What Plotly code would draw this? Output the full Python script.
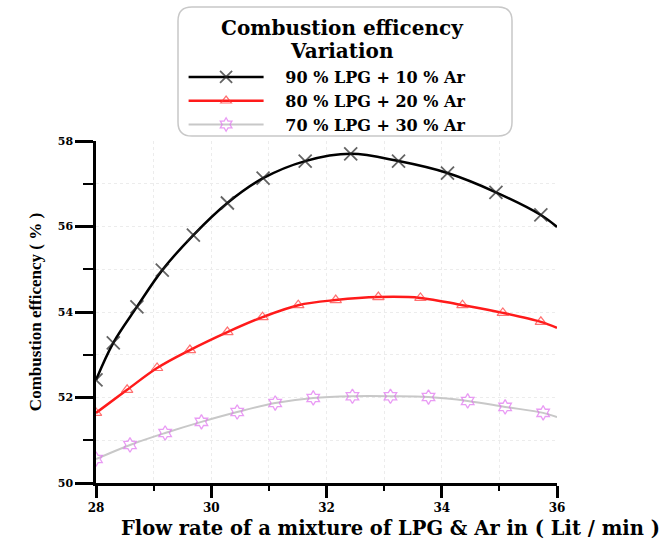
import plotly.graph_objects as go

# ---- data ----
x_lpg90 = [28.0, 28.30, 28.71, 29.15, 29.69, 30.28, 30.90, 31.63, 32.42, 33.25, 34.10, 34.94, 35.72, 36.0]
y_lpg90 = [52.41, 53.28, 54.12, 54.98, 55.80, 56.55, 57.13, 57.53, 57.70, 57.53, 57.25, 56.80, 56.27, 55.99]

x_lpg80 = [28.0, 28.54, 29.06, 29.63, 30.28, 30.89, 31.51, 32.16, 32.90, 33.63, 34.36, 35.06, 35.72, 36.0]
y_lpg80 = [51.64, 52.18, 52.69, 53.11, 53.53, 53.88, 54.16, 54.28, 54.35, 54.33, 54.16, 53.98, 53.77, 53.63]

x_lpg70 = [28.0, 28.59, 29.20, 29.83, 30.45, 31.11, 31.77, 32.45, 33.11, 33.77, 34.45, 35.10, 35.76, 36.0]
y_lpg70 = [50.56, 50.89, 51.17, 51.43, 51.66, 51.87, 51.99, 52.03, 52.03, 52.01, 51.92, 51.78, 51.64, 51.54]

names = ["90 % LPG + 10 % Ar", "80 % LPG + 20 % Ar", "70 % LPG + 30 % Ar"]
legend_title = ["Combustion efficency", "Variation"]
x_title = "Flow rate of a mixture of LPG & Ar in ( Lit / min )"
y_title = "Combustion efficency ( % )"

SERIF = "Liberation Serif, Times New Roman, serif"
WIDE = "DejaVu Serif, serif"
PAD = "\u00a0\u00a0\u00a0"

# plot area in pixels (for placing paper-referenced items)
L, R, T, B = 96, 557, 141, 483
def px(x): return (x - L) / (R - L)
def py(y): return (B - y) / (B - T)

def sizes(n, s):
    return [s] * (n - 1) + [0]

fig = go.Figure()
fig.add_trace(go.Scatter(
    x=x_lpg90, y=y_lpg90, name=PAD + names[0], mode="lines+markers",
    line=dict(color="black", width=2.5, shape="spline"),
    marker=dict(symbol="x-thin-open", size=sizes(len(x_lpg90), 13),
                line=dict(color="#222222", width=1.8), color="#222222"),
))
fig.add_trace(go.Scatter(
    x=x_lpg80, y=y_lpg80, name=PAD + names[1], mode="lines+markers",
    line=dict(color="#ff1a1a", width=2.5, shape="spline"),
    marker=dict(symbol="triangle-up-open", size=sizes(len(x_lpg80), 10),
                line=dict(color="#ff3333", width=1.2), color="#ff3333"),
))
fig.add_trace(go.Scatter(
    x=x_lpg70, y=y_lpg70, name=PAD + names[2], mode="lines+markers",
    line=dict(color="#c8c8c8", width=2, shape="spline"),
    marker=dict(symbol="hexagram-open", size=sizes(len(x_lpg70), 11),
                line=dict(color="#e070f0", width=1.3), color="#e070f0"),
))

fig.update_xaxes(
    range=[28, 36], tick0=28, dtick=2, ticks="outside", ticklen=12, tickwidth=2.5,
    tickcolor="black", showline=True, linecolor="black", linewidth=2.5,
    tickfont=dict(family=WIDE, size=12, color="black", weight="bold"),
    minor=dict(dtick=1, ticks="outside", ticklen=5, tickwidth=2, tickcolor="black",
               showgrid=True, gridcolor="#ececec", griddash="dot"),
    zeroline=False, showgrid=True, gridcolor="#ececec", griddash="dot",
)
fig.update_yaxes(
    range=[50, 58], tick0=50, dtick=2, ticks="outside", ticklen=18, tickwidth=2.5,
    tickcolor="black", showline=True, linecolor="black", linewidth=2.5,
    tickfont=dict(family=WIDE, size=11, color="black", weight="bold"),
    minor=dict(dtick=1, ticks="outside", ticklen=10, tickwidth=2, tickcolor="black",
               showgrid=True, gridcolor="#ececec", griddash="dot"),
    title=dict(text="<b>" + y_title + "</b>",
               font=dict(family=SERIF, size=17, color="black"), standoff=12),
    zeroline=False, showgrid=True, gridcolor="#ececec", griddash="dot",
)

# x-axis title (offset to the right as in the reference)
fig.add_annotation(text="<b>" + x_title + "</b>", x=px(390), y=py(528),
                   xref="paper", yref="paper", showarrow=False,
                   xanchor="center", yanchor="middle",
                   font=dict(family=WIDE, size=19.5, color="black"))

# rounded legend frame
x0, x1, y0, y1, r = px(178), px(512), py(136), py(7), 0.03
ry = r * (R - L) / (B - T)
path = (f"M {x0+r},{y0} L {x1-r},{y0} Q {x1},{y0} {x1},{y0+ry} "
        f"L {x1},{y1-ry} Q {x1},{y1} {x1-r},{y1} L {x0+r},{y1} "
        f"Q {x0},{y1} {x0},{y1-ry} L {x0},{y0+ry} Q {x0},{y0} {x0+r},{y0} Z")
fig.add_shape(type="path", path=path, xref="paper", yref="paper",
              line=dict(color="#c8c8c8", width=1.5), fillcolor="white", layer="below")

# legend title lines
for txt, yy in zip(legend_title, [28, 51]):
    fig.add_annotation(text="<b>" + txt + "</b>", x=px(342), y=py(yy),
                       xref="paper", yref="paper", showarrow=False,
                       xanchor="center", yanchor="middle",
                       font=dict(family=WIDE, size=20, color="black"))

fig.update_layout(
    width=670, height=541, plot_bgcolor="white", paper_bgcolor="white",
    margin=dict(l=L, r=670 - R, t=T, b=541 - B),
    showlegend=True,
    legend=dict(
        x=0.19, y=py(60), xanchor="left", yanchor="top",
        bgcolor="rgba(0,0,0,0)", borderwidth=0,
        font=dict(family=WIDE, size=16, color="black", weight="bold"),
        itemwidth=75, tracegroupgap=0,
    ),
)

fig.write_html("out.html")
